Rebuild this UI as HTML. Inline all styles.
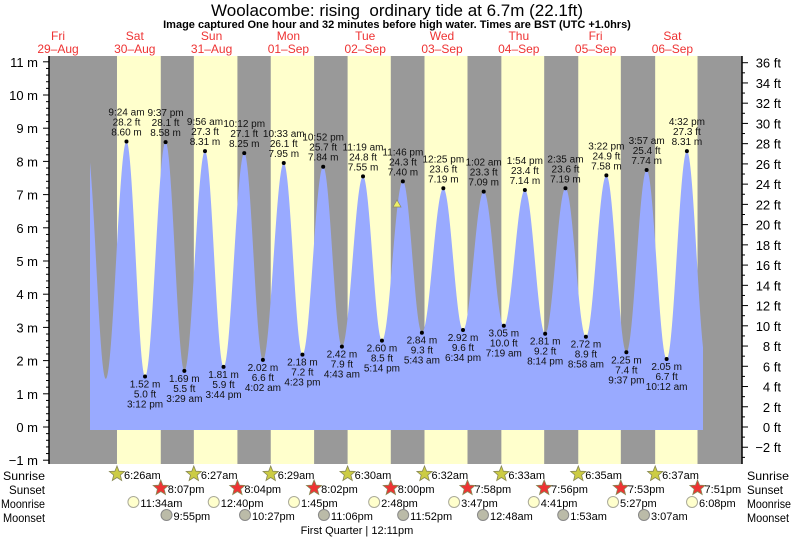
<!DOCTYPE html>
<html><head><meta charset="utf-8"><style>
html,body{margin:0;padding:0;background:#fff;width:793px;height:538px;overflow:hidden}
svg text{font-family:"Liberation Sans",sans-serif}
</style></head><body>
<div id="c"></div>
<script>
const X0=96.4,DW=76.8;
const x=(d,h,m)=>X0+DW*(d+(h+m/60)/24);
const Y=m=>427-33.2*m;
function t(s){
  let [d,tm,ap]=s.split(' ');d=+d;let [h,m]=tm.split(':').map(Number);
  if(ap=='pm'&&h!=12)h+=12; if(ap=='am'&&h==12)h=0; return x(d,h,m);}
let o=[];
o.push('<svg xmlns="http://www.w3.org/2000/svg" width="793" height="538">');
o.push('<rect x="49" y="56" width="693" height="408" fill="#999"/>');
const sr=['6:26','6:27','6:29','6:30','6:32','6:33','6:35','6:37'];
const ss=['8:07','8:04','8:02','8:00','7:58','7:56','7:53','7:51'];
for(let i=0;i<8;i++){const a=t(i+' '+sr[i]+' am'),b=t(i+' '+ss[i]+' pm');
 o.push(`<rect x="${a}" y="56" width="${b-a}" height="408" fill="#ffffcc"/>`);}
const ex=[[-1,'8:50 pm',8.6],[0,'2:55 am',1.45],[0,'9:24 am',8.60],[0,'3:12 pm',1.52],[0,'9:37 pm',8.58],[1,'3:29 am',1.69],[1,'9:56 am',8.31],[1,'3:44 pm',1.81],[1,'10:12 pm',8.25],[2,'4:02 am',2.02],[2,'10:33 am',7.95],[2,'4:23 pm',2.18],[2,'10:52 pm',7.84],[3,'4:43 am',2.42],[3,'11:19 am',7.55],[3,'5:14 pm',2.60],[3,'11:46 pm',7.40],[4,'5:43 am',2.84],[4,'12:25 pm',7.19],[4,'6:34 pm',2.92],[5,'1:02 am',7.09],[5,'7:19 am',3.05],[5,'1:54 pm',7.14],[5,'8:14 pm',2.81],[6,'2:35 am',7.19],[6,'8:58 am',2.72],[6,'3:22 pm',7.58],[6,'9:37 pm',2.25],[7,'3:57 am',7.74],[7,'10:12 am',2.05],[7,'4:32 pm',8.31],[7,'10:40 pm',1.9]];
const P=ex.map(e=>[t(e[0]+' '+e[1]),e[2],e[1]]);
function h(px){for(let i=0;i<P.length-1;i++){if(px>=P[i][0]&&px<=P[i+1][0]){const f=(px-P[i][0])/(P[i+1][0]-P[i][0]);return P[i][1]+(P[i+1][1]-P[i][1])*(1-Math.cos(Math.PI*f))/2;}}return 2;}
let d=`M90 430 `;for(let px=90;px<=703;px+=0.5)d+=`L${px} ${Y(h(px)).toFixed(1)} `;d+='L703 430 Z';
o.push(`<path d="${d}" fill="#99aaff"/>`);
for(let i=2;i<P.length-1;i++){const [px,m,tm]=P[i];const y=Y(m);const ft=(m/0.3048).toFixed(1);
 o.push(`<circle cx="${px}" cy="${y}" r="2" fill="#000"/>`);
 const hi=m>5;const L=hi?[tm,ft+' ft',m.toFixed(2)+' m']:[m.toFixed(2)+' m',ft+' ft',tm];
 L.forEach((s,k)=>{const yy=hi?y-26+k*10:y+11+k*10;o.push(`<text x="${px}" y="${yy}" font-size="10" text-anchor="middle" fill="#111">${s}</text>`);});}
o.push('<polygon points="397,200 393,207 401,207" fill="#ee6" stroke="#886" stroke-width="0.7"/>');
o.push('<line x1="49" y1="56" x2="49" y2="464" stroke="#000" stroke-width="1.5"/><line x1="742" y1="56" x2="742" y2="464" stroke="#000" stroke-width="1.5"/>');
for(let v=-1;v<=11.01;v+=0.2){const y=Y(v),maj=Math.abs(v-Math.round(v))<0.01;o.push(`<line x1="${maj?43:46}" x2="49" y1="${y}" y2="${y}" stroke="#000"/>`);
 if(maj)o.push(`<text x="38" y="${y+5}" font-size="13" text-anchor="end">${Math.round(v)<0?'\u2212'+(-Math.round(v)):Math.round(v)} m</text>`);}
for(let f=-3;f<=36;f++){const y=427-f*0.3048*33.2;if(y<56)continue;const maj=f%2==0;o.push(`<line x1="742" x2="${maj?748:745}" y1="${y}" y2="${y}" stroke="#000"/>`);
 if(maj)o.push(`<text x="781" y="${y+5}" font-size="13" text-anchor="end">${f<0?'\u2212'+(-f):f} ft</text>`);}
o.push('<text x="397" y="16" font-size="17" text-anchor="middle">Woolacombe: rising&#160; ordinary tide at 6.7m (22.1ft)</text>');
o.push('<text x="397" y="28" font-size="11" font-weight="bold" text-anchor="middle">Image captured One hour and 32 minutes before high water. Times are BST (UTC +1.0hrs)</text>');
const dn=['Fri','Sat','Sun','Mon','Tue','Wed','Thu','Fri','Sat'],dd=['29-Aug','30-Aug','31-Aug','01-Sep','02-Sep','03-Sep','04-Sep','05-Sep','06-Sep'];
for(let i=0;i<9;i++){const cx=X0+DW*(i-1)+38.4;o.push(`<text x="${cx}" y="40" font-size="12" fill="#e33" text-anchor="middle">${dn[i]}</text><text x="${cx}" y="53" font-size="12" fill="#e33" text-anchor="middle">${dd[i].replace('-','\u2013')}</text>`);}
const wl={Sunrise:42,Sunset:36,Moonrise:44,Moonset:42};
['Sunrise','Sunset','Moonrise','Moonset'].forEach((s,k)=>{const y=480+k*14;o.push(`<text x="45" y="${y}" font-size="12" text-anchor="end" textLength="${wl[s]}" lengthAdjust="spacingAndGlyphs">${s}</text><text x="747" y="${y}" font-size="12" textLength="${wl[s]}" lengthAdjust="spacingAndGlyphs">${s}</text>`);});
function star(cx,cy,f){let p='';for(let i=0;i<10;i++){const r=i%2?3.5:8,a=-Math.PI/2+i*Math.PI/5;p+=(cx+r*Math.cos(a)).toFixed(1)+','+(cy+r*Math.sin(a)).toFixed(1)+' ';}return `<polygon points="${p}" fill="${f}" stroke="#885" stroke-width="0.8"/>`;}
for(let i=0;i<8;i++){let a=t(i+' '+sr[i]+' am');o.push(star(a,474,'#cc4')+`<text x="${a+7}" y="479" font-size="11">${sr[i]}am</text>`);
 let b=t(i+' '+ss[i]+' pm');o.push(star(b,488,'#e33')+`<text x="${b+7}" y="493" font-size="11">${ss[i]}pm</text>`);}
const mr=[[0,'11:34 am'],[1,'12:40 pm'],[2,'1:45 pm'],[3,'2:48 pm'],[4,'3:47 pm'],[5,'4:41 pm'],[6,'5:27 pm'],[7,'6:08 pm']];
mr.forEach(e=>{const a=t(e[0]+' '+e[1]);o.push(`<circle cx="${a}" cy="502" r="5.5" fill="#ffffcc" stroke="#aa9"/><text x="${a+7}" y="507" font-size="11">${e[1].replace(' ','')}</text>`);});
const ms=[[0,'9:55 pm'],[1,'10:27 pm'],[2,'11:06 pm'],[3,'11:52 pm'],[5,'12:48 am'],[6,'1:53 am'],[7,'3:07 am']];
ms.forEach(e=>{const a=t(e[0]+' '+e[1]);o.push(`<circle cx="${a}" cy="515" r="5.5" fill="#bbbba8" stroke="#888"/><text x="${a+7}" y="520" font-size="11">${e[1].replace(' ','')}</text>`);});
o.push('<text x="357" y="534" font-size="11" text-anchor="middle">First Quarter | 12:11pm</text>');
o.push('</svg>');
document.getElementById('c').innerHTML=o.join('');
</script>
</body></html>
